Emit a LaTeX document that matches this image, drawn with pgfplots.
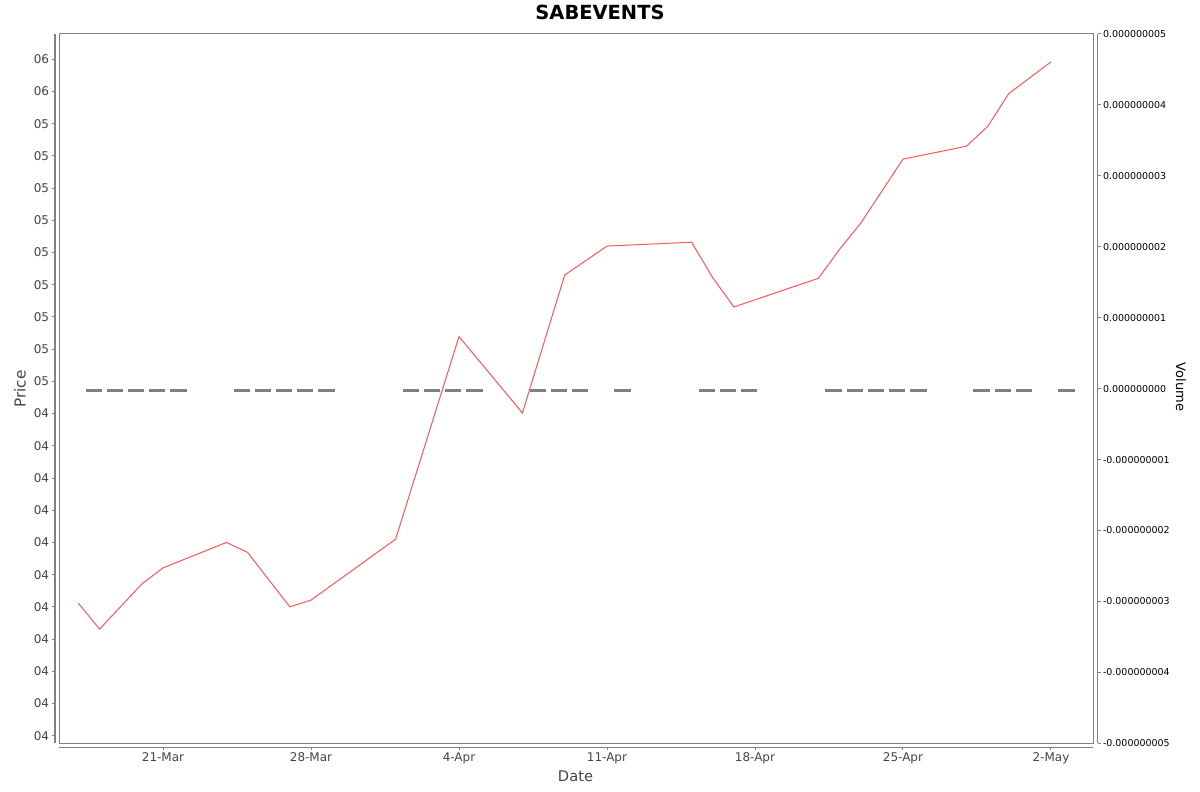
\documentclass[border=0pt]{standalone}
\usepackage{fontspec}
\setmainfont{DejaVu Sans}
\usepackage{pgfplots}
\pgfplotsset{compat=1.18}
\definecolor{axgray}{RGB}{128,128,128}
\definecolor{lblgray}{RGB}{68,68,68}
\definecolor{pricered}{RGB}{255,85,85}
\definecolor{volgray}{RGB}{128,128,128}
\newcommand{\fsz}[1]{\fontsize{#1}{#1}\selectfont}
% x = days since 21-Mar; price in tick units (0 = lowest "04" tick)
\pgfplotstableread{
d     p
-4    4.11
-3    3.31
-1    4.71
0     5.21
3     6.00
4     5.69
6     4.00
7     4.21
11    6.10
14    12.39
17    10.02
19    14.30
21    15.20
25    15.32
26    14.22
27    13.31
31    14.20
32    15.10
33    15.91
35    17.90
38    18.30
39    18.91
40    19.93
42    20.92
}\pricetable
\pgfplotstableread{
d   v
-4  0
-3  0
-2  0
-1  0
0   0
3   0
4   0
5   0
6   0
7   0
11  0
12  0
13  0
14  0
17  0
18  0
19  0
21  0
25  0
26  0
27  0
31  0
32  0
33  0
34  0
35  0
38  0
39  0
40  0
42  0
}\voltable
\begin{document}
\begin{tikzpicture}[x=0.75pt,y=0.75pt]
\path[use as bounding box] (0,0) rectangle (1200,-792);
% main box with price line
\begin{axis}[at={(44.25pt,-557.475pt)}, anchor=south west, scale only axis,
  width=775.7pt, height=532pt, xmin=-4.92, xmax=44.0, ymin=-0.236, ymax=21.785,
  axis line style={axgray, line width=0.75pt}, ticks=none, clip=true]
\addplot[pricered, line width=0.75pt] table[x=d,y=p] {\pricetable};
\end{axis}
% volume plot (hidden axis)
\begin{axis}[at={(44.25pt,-557.475pt)}, anchor=south west, scale only axis,
  width=775.7pt, height=532pt, xmin=-4.92, xmax=44.0, ymin=-5, ymax=5,
  hide axis, clip=false]
\addplot[only marks, mark=-, mark size=6.2pt, xshift=11.5pt, yshift=-1.6pt,
  mark options={volgray, line width=2.6pt}] table[x=d,y=v] {\voltable};
\end{axis}
% left price axis
\begin{axis}[at={(41.25pt,-557.475pt)}, anchor=south west, scale only axis,
  width=775.7pt, height=532pt, xmin=-4.92, xmax=44.0, ymin=-0.236, ymax=21.785,
  axis x line=none, axis y line=left, axis line style={axgray, line width=0.75pt, -},
  ytick={0,...,21},
  yticklabels={04,04,04,04,04,04,04,04,04,04,04,05,05,05,05,05,05,05,05,05,06,06},
  tick align=outside, major tick length=2.25pt, tick style={axgray, line width=0.75pt},
  yticklabel style={font=\fsz{9pt}, text=lblgray, inner sep=0pt, anchor=east, xshift=-2pt}]
\end{axis}
% bottom date axis
\begin{axis}[at={(44.25pt,-560.25pt)}, anchor=south west, scale only axis,
  width=775.7pt, height=532pt, xmin=-4.92, xmax=44.0, ymin=0, ymax=1,
  axis y line=none, axis x line=bottom, axis line style={axgray, line width=0.75pt, -},
  xtick={0,7,14,21,28,35,42},
  xticklabels={21-Mar,28-Mar,4-Apr,11-Apr,18-Apr,25-Apr,2-May},
  tick align=outside, major tick length=2.25pt, tick style={axgray, line width=0.75pt},
  xticklabel style={font=\fsz{9pt}, text=lblgray, inner sep=0pt, anchor=north, yshift=-2pt}]
\end{axis}
% right volume axis
\begin{axis}[at={(823.3pt,-557.475pt)}, anchor=south east, scale only axis,
  width=775.7pt, height=532pt, xmin=0, xmax=1, ymin=-5, ymax=5,
  axis x line=none, axis y line=right, axis line style={axgray, line width=0.75pt, -},
  ytick={-5,...,5},
  yticklabels={-0.000000005,-0.000000004,-0.000000003,-0.000000002,-0.000000001,0.000000000,0.000000001,0.000000002,0.000000003,0.000000004,0.000000005},
  tick align=outside, major tick length=2.25pt, tick style={axgray, line width=0.75pt},
  yticklabel style={font=\fsz{7.1pt}, text=black, inner sep=0pt, anchor=west, xshift=1.5pt}]
\end{axis}
% titles and labels
\node[anchor=base, font=\fsz{14.6pt}\bfseries, text=black] at (600,-19.3) {SABEVENTS};
\node[anchor=base, font=\fsz{11pt}, text=lblgray] at (575.5,-781.7) {Date};
\node[rotate=90, font=\fsz{11.4pt}, text=lblgray] at (20,-389) {Price};
\node[rotate=-90, font=\fsz{9.75pt}, text=black] at (1181,-387) {Volume};
\end{tikzpicture}
\end{document}
